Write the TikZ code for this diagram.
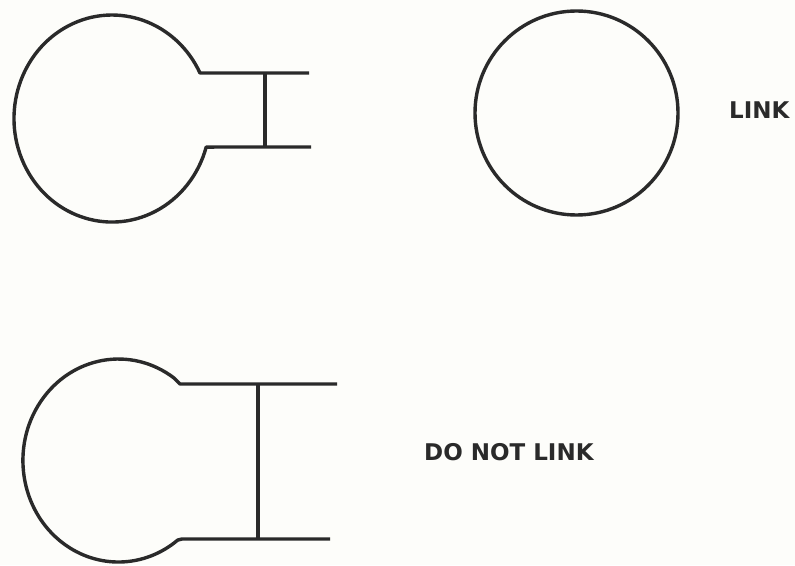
\documentclass[tikz,border=0pt]{standalone}
\usepackage{fontspec}
\newfontfamily\labelfont{DejaVu Sans}
\definecolor{ink}{HTML}{2A2A2A}
\definecolor{paper}{HTML}{FDFDFA}
\begin{document}
\begin{tikzpicture}[x=1pt,y=1pt,
  shape line/.style={draw=ink, line width=3.4pt, line join=round},
  label text/.style={text=ink, font=\labelfont\bfseries\fontsize{23}{26}\selectfont, inner sep=0pt, anchor=west}]
\fill[paper] (0,0) rectangle (795,565);
\useasboundingbox (0,0) rectangle (795,565);
% top-left shape
\coordinate (a1) at (309,492);
\coordinate (a2) at (200,492);
\coordinate (a4) at (311,418);
\coordinate (a5) at (265,492);
\coordinate (a6) at (265,418);
\draw[shape line] (a1) -- (a2) arc[start angle=26.1, end angle=344, x radius=98pt, y radius=103.5pt] -- (a4);
\draw[shape line] (a5) -- (a6);
% top-right circle
\coordinate (c) at (576.5,452);
\draw[shape line] (c) ellipse[x radius=101.5pt, y radius=102pt];
\node[label text] (link) at (729,454.5) {LINK};
% bottom-left shape
\coordinate (b1) at (337,181);
\coordinate (b2) at (180,181);
\coordinate (b3) at (174,187);
\coordinate (b4) at (182,26);
\coordinate (b5) at (330,26);
\coordinate (b6) at (258,181);
\coordinate (b7) at (258,26);
\draw[shape line] (b1) -- (b2) -- (b3) arc[start angle=54.4, end angle=308.4, x radius=95.5pt, y radius=101.5pt] -- (b4) -- (b5);
\draw[shape line] (b6) -- (b7);
\node[label text] (nolink) at (424,113) {DO NOT LINK};
\end{tikzpicture}
\end{document}
